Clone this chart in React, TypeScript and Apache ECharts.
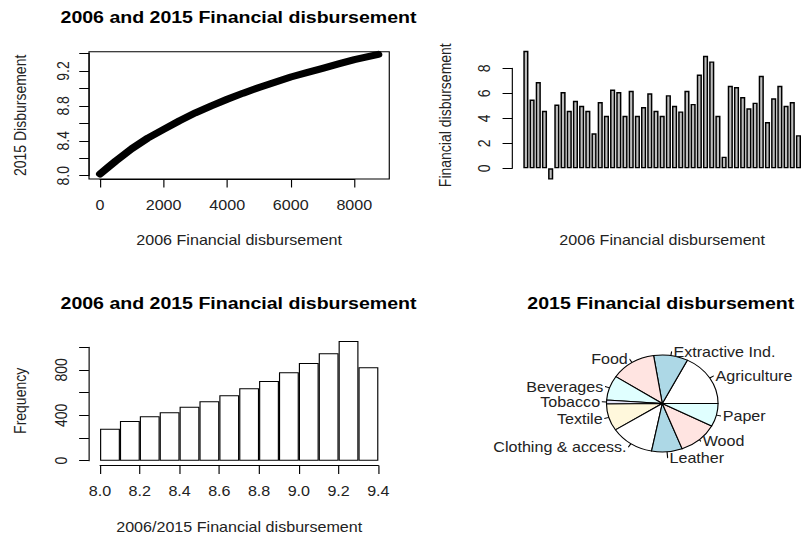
import React, { useEffect, useRef } from "react";
import * as echarts from "echarts";

// ---- data ----
const curveX = [0, 250, 500, 1000, 1500, 2000, 2500, 3000, 3500, 4000, 4500, 5000, 5500, 6000, 6500, 7000, 7500, 8000, 8750];
const curveY = [8.02, 8.095, 8.17, 8.31, 8.43, 8.53, 8.63, 8.72, 8.8, 8.875, 8.945, 9.01, 9.07, 9.13, 9.18, 9.23, 9.28, 9.33, 9.39];

const barValues = [
  9.4, 5.5, 6.9, 4.6, -0.9, 5.1, 6.1, 4.6, 5.4, 5.0, 4.6, 2.8, 5.3, 4.2, 6.3,
  6.1, 4.2, 6.2, 4.2, 4.9, 6.0, 4.6, 4.2, 5.85, 5.0, 4.55, 6.2, 5.15, 7.5, 9.0,
  8.55, 4.2, 0.93, 6.6, 6.5, 5.7, 4.8, 5.25, 7.4, 3.7, 5.6, 6.6, 5.0, 5.3, 2.65,
];
const barCategories = barValues.map((_, i) => String(i + 1));

const histBinStarts = ["8.0", "8.1", "8.2", "8.3", "8.4", "8.5", "8.6", "8.7", "8.8", "8.9", "9.0", "9.1", "9.2", "9.3"];
const histCounts = [282, 350, 391, 426, 476, 523, 576, 637, 702, 778, 861, 946, 1055, 822];

const pieLabels = ["Agriculture", "Extractive Ind.", "Food", "Beverages", "Tobacco", "Textile", "Clothing & access.", "Leather", "Wood", "Paper"];
const pieValues = [17.6, 9.9, 13.2, 8.2, 1.25, 9.0, 12.8, 8.9, 11.5, 7.7];
const pieColors = ["#ffffff", "#add8e6", "#ffe4e1", "#e0ffff", "#e6e6fa", "#fff8dc"];

const titleMain = "2006 and 2015 Financial disbursement";
const titlePie = "2015 Financial disbursement";

const FONT = "'Liberation Sans', Arial, sans-serif";
const S = 1.15;

const hiddenParts = {
  axisLine: { show: false },
  axisTick: { show: false },
  axisLabel: { show: false },
  splitLine: { show: false },
};
const nameStyle = { fontSize: 14, color: "#222", fontFamily: FONT, align: "center", verticalAlign: "middle" };
const blackLine = { color: "#000", width: 1 };

export default function App() {
  const ref = useRef<HTMLDivElement>(null);
  useEffect(() => {
    if (!ref.current) return;
    const chart = echarts.init(ref.current, null, { renderer: "svg" });
    const titleCommon = {
      textAlign: "center",
      padding: 0,
      textStyle: { fontSize: 17, fontWeight: "bold", color: "#000", fontFamily: FONT },
    };
    const visibleAxis = (extra: any, label: any) => ({
      ...extra,
      axisLine: { show: true, onZero: false, lineStyle: blackLine },
      axisTick: { show: true, inside: false, length: 8.5, lineStyle: blackLine },
      axisLabel: { show: true, fontSize: 14, color: "#222", fontFamily: FONT, ...label },
      splitLine: { show: false },
    });
    const pieData = pieLabels.map((name, i) => {
      const item: any = { name, value: pieValues[i], itemStyle: { color: pieColors[i % pieColors.length] } };
      if (name === "Leather") item.labelLine = { length: 6 };
      if (name === "Wood") item.labelLine = { length: 2 };
      return item;
    });
    const option: any = {
      animation: false,
      backgroundColor: "#fff",
      textStyle: { fontFamily: FONT },
      title: [
        { ...titleCommon, text: titleMain, left: 207.4, top: 8 },
        { ...titleCommon, text: titleMain, left: 207.4, top: 294.5 },
        { ...titleCommon, text: titlePie, left: 574.6, top: 294.5 },
      ],
      grid: [
        { left: 77.4, top: 51.7, width: 261.1, height: 127.3, show: true, borderColor: "#000", borderWidth: 1, backgroundColor: "transparent" },
        { left: 87.0, top: 53.5, width: 221.1, height: 122.2 },
        { left: 445.5, top: 68.3, width: 10, height: 100 },
        { left: 454.6, top: 45.7, width: 243, height: 139 },
        { left: 77.3, top: 336.2, width: 261.4, height: 129.3 },
        { left: 87, top: 347.2, width: 242, height: 113.5 },
        { left: 87, top: 335.8, width: 242, height: 124.9 },
      ],
      xAxis: [
        { gridIndex: 0, type: "value", min: -347, max: 9096, ...hiddenParts, name: "2006 Financial disbursement", nameLocation: "middle", nameGap: 61, nameTextStyle: nameStyle },
        visibleAxis({ gridIndex: 1, type: "value", min: 0, max: 8000, interval: 2000, offset: 3.3 }, { margin: 19, formatter: (v: number) => String(Math.round(v)) }),
        { gridIndex: 2, type: "value", min: 0, max: 1, show: false },
        { gridIndex: 3, type: "category", data: barCategories, ...hiddenParts, name: "2006 Financial disbursement", nameLocation: "middle", nameGap: 55.3, nameTextStyle: nameStyle },
        { gridIndex: 4, type: "value", min: 7.944, max: 9.456, ...hiddenParts, name: "2006/2015 Financial disbursement", nameLocation: "middle", nameGap: 61.2, nameTextStyle: nameStyle },
        visibleAxis({ gridIndex: 5, type: "value", min: 8.0, max: 9.4, interval: 0.2, offset: 4.8 }, { margin: 18, formatter: (v: number) => (Math.round(v * 10) / 10).toFixed(1) }),
        { gridIndex: 6, type: "category", data: histBinStarts, ...hiddenParts },
      ],
      yAxis: [
        { gridIndex: 0, type: "value", min: 7.962, max: 9.42, ...hiddenParts, name: "2015 Disbursement", nameLocation: "middle", nameRotate: 90, nameGap: 60, nameTextStyle: nameStyle },
        visibleAxis(
          { gridIndex: 1, type: "value", min: 8.0, max: 9.4, interval: 0.2, offset: 9.6 },
          { rotate: 90, margin: 15.4, formatter: (v: number) => { const k = Math.round(v * 10); return k % 4 === 0 ? (k / 10).toFixed(1) : ""; } }
        ),
        visibleAxis({ gridIndex: 2, type: "value", min: 0, max: 8, interval: 2 }, { rotate: 90, margin: 17.5, formatter: (v: number) => String(Math.round(v)) }),
        { gridIndex: 3, type: "value", min: -1.31, max: 9.81, ...hiddenParts, name: "Financial disbursement", nameLocation: "middle", nameRotate: 90, nameGap: 67.6, nameTextStyle: nameStyle },
        { gridIndex: 4, type: "value", min: -42, max: 1097, ...hiddenParts, name: "Frequency", nameLocation: "middle", nameRotate: 90, nameGap: 59.9, nameTextStyle: nameStyle },
        visibleAxis(
          { gridIndex: 5, type: "value", min: 0, max: 1000, interval: 200, offset: 9.7 },
          { rotate: 90, margin: 16.8, formatter: (v: number) => (Math.round(v) % 400 === 0 ? String(Math.round(v)) : "") }
        ),
        { gridIndex: 6, type: "value", min: 0, max: 1100, ...hiddenParts },
      ],
      series: [
        {
          type: "line", xAxisIndex: 0, yAxisIndex: 0, smooth: false, showSymbol: false, silent: true,
          data: curveX.map((x, i) => [x, curveY[i]]),
          lineStyle: { color: "#000", width: 7, cap: "round", join: "round" },
        },
        {
          type: "bar", xAxisIndex: 3, yAxisIndex: 3, data: barValues, barWidth: "83%", silent: true,
          itemStyle: { color: "#bebebe", borderColor: "#000", borderWidth: 1.3 },
        },
        {
          type: "bar", xAxisIndex: 6, yAxisIndex: 6, data: histCounts, barCategoryGap: "0%", silent: true,
          itemStyle: { color: "#ffffff", borderColor: "#000", borderWidth: 1 },
        },
        {
          type: "pie", center: [575.9, 403.5], radius: 48.5, startAngle: 0, clockwise: false, silent: true,
          avoidLabelOverlap: false,
          labelLayout: { hideOverlap: false },
          data: pieData,
          itemStyle: { borderColor: "#000", borderWidth: 1 },
          label: { show: true, position: "outside", fontSize: 14, color: "#222", fontFamily: FONT, distanceToLabelLine: 1.5 },
          labelLine: { show: true, length: 4, length2: 0.1, lineStyle: { color: "#000", width: 1 } },
          emphasis: { disabled: true },
        },
      ],
    };
    chart.setOption(option);
    return () => chart.dispose();
  }, []);
  return (
    <div
      ref={ref}
      style={{ position: "fixed", left: 0, top: 0, width: 697, height: 535, transform: `scaleX(${S})`, transformOrigin: "0 0" }}
    />
  );
}
